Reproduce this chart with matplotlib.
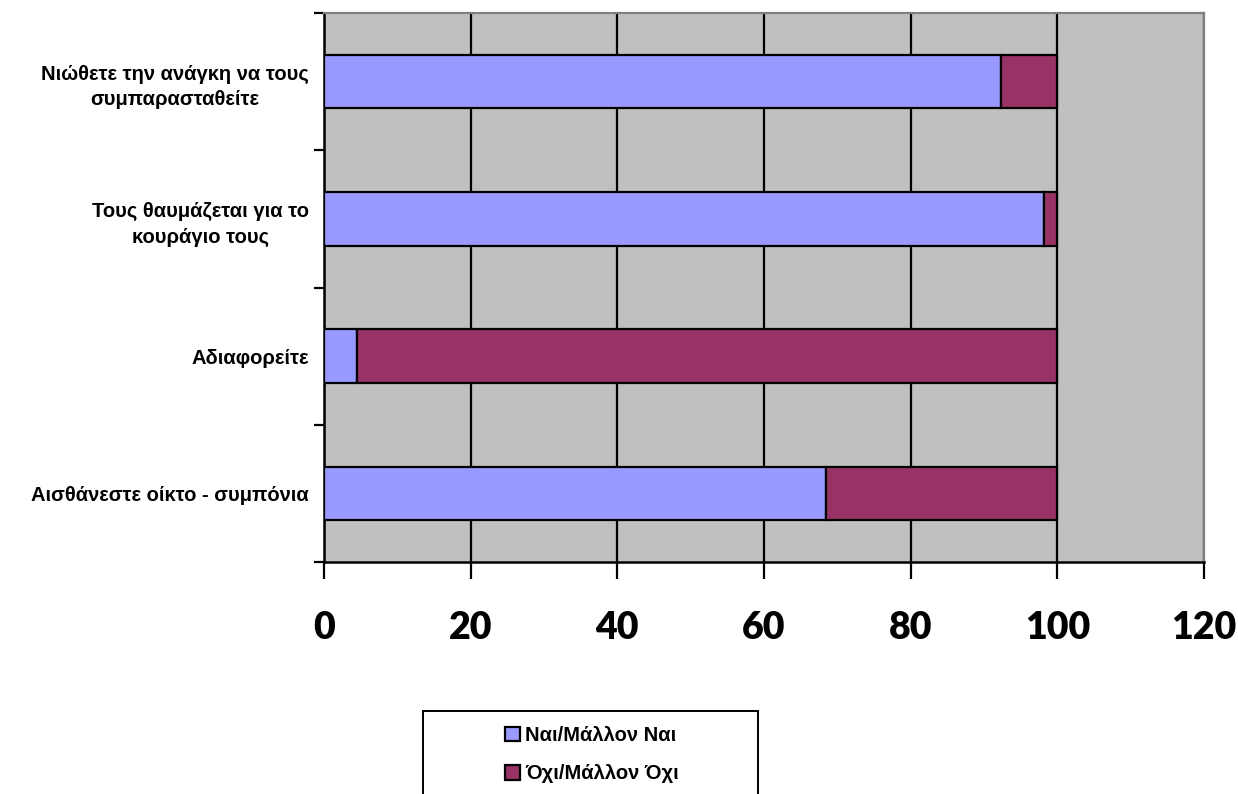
import matplotlib
matplotlib.use("Agg")
import matplotlib.pyplot as plt
from matplotlib.patches import Rectangle

# Survey responses (percent), listed bottom to top
categories = [
    "Αισθάνεστε οίκτο - συμπόνια",
    "Αδιαφορείτε",
    "Τους θαυμάζεται για το\nκουράγιο τους",
    "Νιώθετε την ανάγκη να τους\nσυμπαρασταθείτε",
]
yes_values = [68.4, 4.5, 98.2, 92.3]
no_values = [31.6, 95.5, 1.8, 7.7]
series_names = ["Ναι/Μάλλον Ναι", "Όχι/Μάλλον Όχι"]
x_ticks = [0, 20, 40, 60, 80, 100, 120]

blue = "#9999FF"
plum = "#993366"
plot_bg = "#C0C0C0"

fig = plt.figure(figsize=(12.38, 7.94), dpi=100)
ax = fig.add_axes([324 / 1238, 1 - 562 / 794, 880 / 1238, 549 / 794])
ax.set_facecolor(plot_bg)

ypos = list(range(len(categories)))
bar_h = 0.39
b1 = ax.barh(ypos, yes_values, height=bar_h, color=blue, edgecolor="black",
             linewidth=1.6, label=series_names[0], zorder=3)
b2 = ax.barh(ypos, no_values, left=yes_values, height=bar_h, color=plum,
             edgecolor="black", linewidth=1.6, label=series_names[1], zorder=3)

ax.set_xlim(0, 120)
ax.set_ylim(-0.5, len(categories) - 0.5)

# Vertical gridlines
ax.set_xticks(x_ticks)
ax.xaxis.grid(True, color="black", linewidth=1.6, zorder=1)
ax.set_axisbelow(True)

# Category labels centred between the boundary ticks
ax.set_yticks(ypos)
ax.set_yticklabels(categories, fontfamily="Liberation Sans", fontweight="bold",
                   fontsize=14.5, linespacing=1.45)
for lab in ax.get_yticklabels():
    lab.set_multialignment("center")
ax.tick_params(axis="y", which="major", length=0, pad=11)
ax.set_yticks([i - 0.5 for i in range(len(categories) + 1)], minor=True)
ax.tick_params(axis="y", which="minor", length=7, width=1.6, direction="out",
               color="black")

ax.set_xticklabels([str(v) for v in x_ticks], fontfamily="Lato",
                   fontweight="heavy", fontsize=27)
ax.tick_params(axis="x", length=12, width=1.6, direction="out", pad=23,
               color="black")

for side in ("left", "bottom"):
    ax.spines[side].set_color("black")
    ax.spines[side].set_linewidth(1.8)
for side in ("top", "right"):
    ax.spines[side].set_color("#808080")
    ax.spines[side].set_linewidth(1.6)

# Legend box (runs off the lower edge of the figure)
fig.patches.append(Rectangle((423 / 1238, -0.05), 335 / 1238, 1 - 711 / 794 + 0.05,
                             transform=fig.transFigure, facecolor="white",
                             edgecolor="black", linewidth=1.4, zorder=1))
leg = fig.legend(handles=[b1, b2], labels=series_names, loc="upper center",
                 bbox_to_anchor=(592 / 1238, 1 - 708 / 794), frameon=False,
                 prop={"family": "Liberation Sans", "weight": "bold", "size": 14.5},
                 handlelength=0.75, handleheight=0.75, handletextpad=0.25,
                 labelspacing=0.95)
leg.set_zorder(2)

fig.savefig("out.png", dpi=100, facecolor="white")
